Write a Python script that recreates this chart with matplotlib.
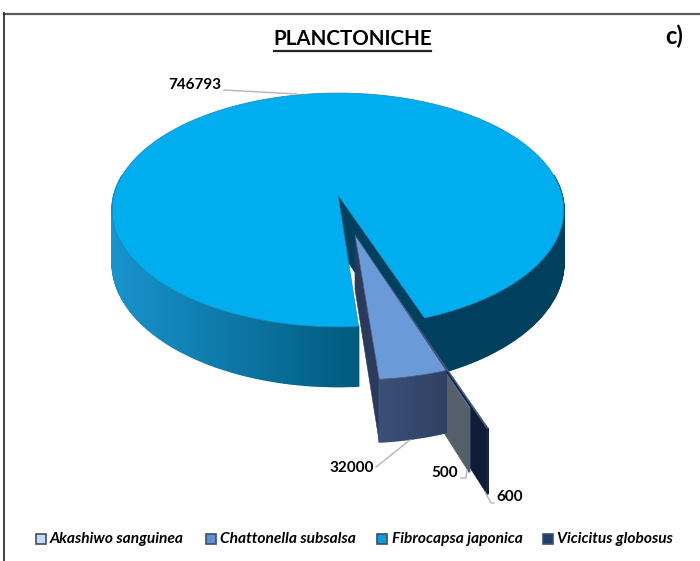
import numpy as np
import matplotlib
matplotlib.use("Agg")
import matplotlib.pyplot as plt
from matplotlib.colors import to_rgb

species = ["Akashiwo sanguinea", "Chattonella subsalsa", "Fibrocapsa japonica", "Vicicitus globosus"]
counts = [500, 32000, 746793, 600]

top_colors = ["#c6d9f1", "#6a9bd8", "#00aeef", "#1f3864"]
radial_colors = ["#555f6c", "#2b3a5c", "#00405f", "#0e1c38"]
wall_colors = [("#555f6c", "#555f6c"), ("#3a4f78", "#2f4162"), ("#1893cc", "#005a7e"), ("#14233f", "#14233f")]
swatch_colors = ["#c6d9f1", "#5f8fd0", "#0f9bdc", "#1f3f70"]

# slice offsets from the pie centre, in pie radii (across, towards viewer)
offsets = [(0.140, 0.551), (0.0726, 0.333), (0.0, 0.0), (0.192, 0.669)]

START_ANGLE = 160.4
CX, CY = 338, 195
SX, SY = 224, 115
PERSP = 0.128
DEPTH = 52


def project(u, v, drop=0.0):
    s = 1.0 / (1.0 - PERSP * v)
    return CX + SX * u * s, CY + SY * v * s + drop * DEPTH * s


def rim(th, off):
    return off[0] + np.sin(np.radians(th)), off[1] - np.cos(np.radians(th))


def mix(c1, c2, t):
    a, b = np.array(to_rgb(c1)), np.array(to_rgb(c2))
    return tuple(a + (b - a) * t)


def draw_wall(ax, th0, th1, off, c0, c1, z=1):
    # outer wall as narrow quads so the shade can run along the rim
    n = max(2, int(abs(th1 - th0) * 1.5))
    ths = np.linspace(th0, th1, n + 1)
    xa, ya = project(*rim(ths, off))
    xb, yb = project(*rim(ths, off), drop=1.0)
    lo, hi = min(xa.min(), xb.min()), max(xa.max(), xb.max())
    for i in range(n):
        t = np.clip((0.5 * (xa[i] + xa[i + 1]) - lo) / max(hi - lo, 1e-6), 0, 1)
        col = mix(c0, c1, t)
        ax.fill([xa[i], xa[i + 1], xb[i + 1], xb[i]], [ya[i], ya[i + 1], yb[i + 1], yb[i]],
                facecolor=col, edgecolor=col, lw=1.1, zorder=z)


def draw_radial(ax, th, off, color, z=1):
    ue, ve = rim(th, off)
    xs, ys = [], []
    for u, v, d in [(off[0], off[1], 0), (ue, ve, 0), (ue, ve, 1), (off[0], off[1], 1)]:
        x, y = project(u, v, d)
        xs.append(x)
        ys.append(y)
    ax.fill(xs, ys, facecolor=color, edgecolor=color, lw=0.4, zorder=z)


def draw_top(ax, th0, th1, off, color, edge, z=1):
    ths = np.linspace(th0, th1, max(2, int(abs(th1 - th0) * 2)))
    us, vs = rim(ths, off)
    x, y = project(np.r_[off[0], us], np.r_[off[1], vs])
    ax.fill(x, y, facecolor=color, edgecolor=edge, lw=0.5, zorder=z)


plt.rcParams["font.family"] = ["Lato", "DejaVu Sans"]

fig = plt.figure(figsize=(7, 5.61), dpi=100)
ax = fig.add_axes([0, 0, 1, 1])
ax.set_xlim(0, 700)
ax.set_ylim(561, 0)
ax.axis("off")

# cumulative slice angles, clockwise from 12 o'clock
sweep = 360.0 * np.array(counts) / sum(counts)
ends = START_ANGLE + np.cumsum(sweep)
starts = ends - sweep

# main slice first, the detached ones back to front
i = 2
draw_radial(ax, ends[i] - 360, offsets[i], radial_colors[i], z=1)
draw_wall(ax, 80, ends[i] - 360, offsets[i], "#00405f", "#00405f", z=2)
draw_wall(ax, starts[i], 280, offsets[i], wall_colors[i][0], wall_colors[i][1], z=2)
draw_top(ax, starts[i], ends[i], offsets[i], top_colors[i], "#1a86b8", z=3)

for i, z in [(3, 4), (0, 7), (1, 10)]:
    th0, th1 = starts[i] % 360, ends[i] % 360
    draw_radial(ax, th1, offsets[i], radial_colors[i], z=z)
    draw_wall(ax, th0, th1, offsets[i], wall_colors[i][0], wall_colors[i][1], z=z + 1)
    draw_top(ax, th0, th1, offsets[i], top_colors[i], "#4a5d80", z=z + 2)

# frame along the top and left
ax.plot([4, 700], [13.5, 13.5], color="#5a5a5a", lw=1.6, zorder=1)
ax.plot([4, 4], [13, 561], color="#222222", lw=1.2, zorder=1)

# title and panel letter
ax.text(352.5, 39, "PLANCTONICHE", fontsize=14.8, fontweight="bold", color="black", ha="center", va="center")
ax.plot([274, 431], [50.5, 50.5], color="#222222", lw=1.6)
ax.text(674.5, 36, "c)", fontsize=17, fontweight="bold", color="black", ha="center", va="center")

# value labels with leader lines
label_style = dict(fontsize=11, fontweight="bold", color="black", va="center")
leader = dict(color="#b5b5b5", lw=1.0, zorder=12)
ax.text(221, 85, str(counts[2]), ha="right", **label_style)
ax.plot([224, 297], [90, 94], **leader)
ax.text(374, 468, str(counts[1]), ha="right", **label_style)
ax.plot([376, 410], [467, 440], **leader)
ax.text(458, 473, str(counts[0]), ha="right", **label_style)
ax.plot([461, 466, 467], [478, 478, 470], **leader)
ax.text(496, 497, str(counts[3]), ha="left", **label_style)
ax.plot([485, 491, 494], [492, 503, 503], **leader)

# legend row
swatch_x = [36, 206, 377, 543]
text_x = [49.5, 220.5, 391.5, 557]
for name, col, sx, tx in zip(species, swatch_colors, swatch_x, text_x):
    ax.add_patch(plt.Rectangle((sx, 534), 10, 10, facecolor=col, edgecolor="#3c4f6c", lw=1.2))
    ax.text(tx, 539, name, fontsize=11.2, fontweight="bold", fontstyle="italic", color="black", va="center")

fig.savefig("out.png", dpi=100)
